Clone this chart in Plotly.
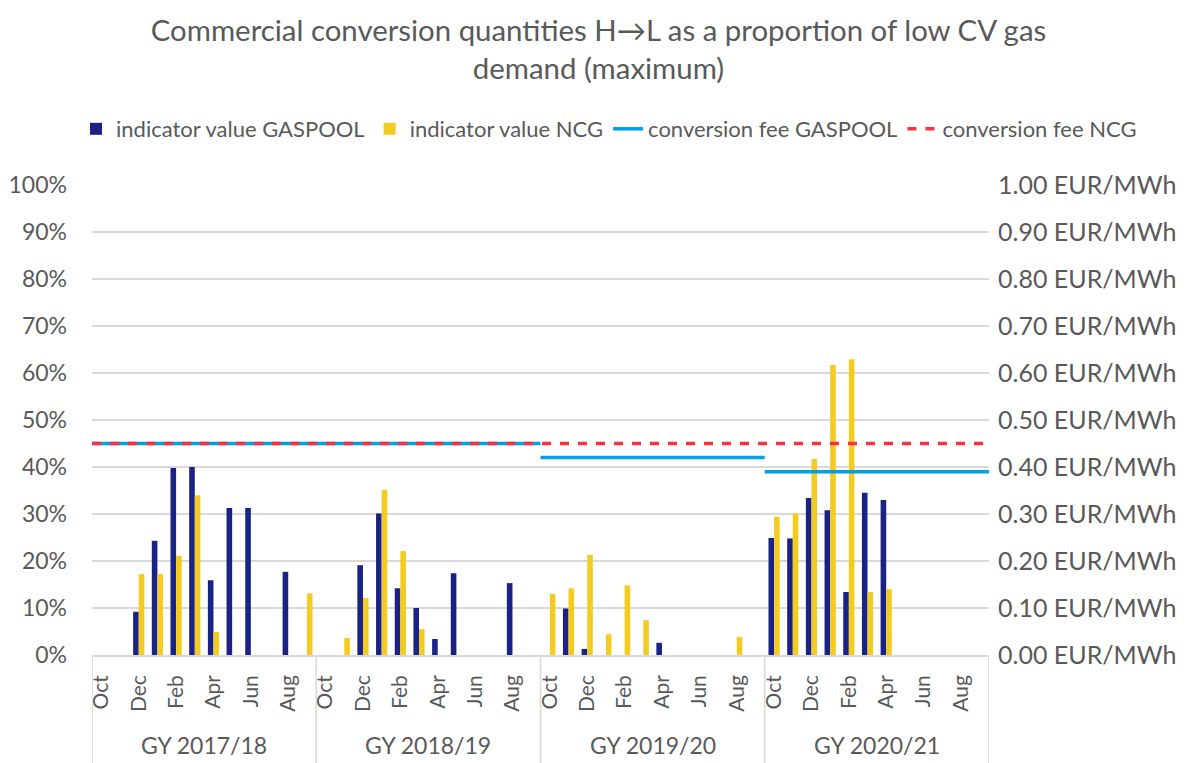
import plotly.graph_objects as go

# ---------------- data ----------------
gas_years = ["GY 2017/18", "GY 2018/19", "GY 2019/20", "GY 2020/21"]
months = ["Oct", "Nov", "Dec", "Jan", "Feb", "Mar", "Apr", "May", "Jun", "Jul", "Aug", "Sep"]

# indicator values (share of low CV gas demand, %), Oct..Sep per gas year
gaspool_2017 = [0, 0, 9.2, 24.3, 39.8, 40.0, 15.9, 31.3, 31.3, 0, 17.7, 0]
gaspool_2018 = [0, 0, 19.1, 30.1, 14.2, 10.0, 3.4, 17.4, 0, 0, 15.3, 0]
gaspool_2019 = [0, 9.9, 1.3, 0, 0, 0, 2.6, 0, 0, 0, 0, 0]
gaspool_2020 = [24.9, 24.8, 33.4, 30.8, 13.4, 34.5, 33.0, None, None, None, None, None]

ncg_2017 = [0, 0, 17.2, 17.2, 21.1, 34.0, 4.9, 0, 0, 0, 0, 13.1]
ncg_2018 = [0, 3.6, 12.1, 35.1, 22.1, 5.5, 0, 0, 0, 0, 0, 0]
ncg_2019 = [13.0, 14.2, 21.3, 4.4, 14.8, 7.4, 0, 0, 0, 0, 3.8, 0]
ncg_2020 = [29.4, 30.1, 41.7, 61.7, 62.9, 13.4, 14.0, None, None, None, None, None]

# conversion fees (EUR/MWh) per gas year
fee_gaspool = [0.45, 0.45, 0.42, 0.39]
fee_ncg = [0.45, 0.45, 0.45, 0.45]

# ---------------- helpers ----------------
gaspool_vals = gaspool_2017 + gaspool_2018 + gaspool_2019 + gaspool_2020
ncg_vals = ncg_2017 + ncg_2018 + ncg_2019 + ncg_2020
n_m = len(months)
n_total = n_m * len(gas_years)
x_idx = list(range(n_total))


def pct(vals):
    return [None if v is None else v / 100 for v in vals]


def step_segments(fees):
    """Horizontal segments spanning each gas year; equal consecutive values merged."""
    xs, ys = [], []
    start = 0
    for i in range(1, len(fees) + 1):
        if i == len(fees) or fees[i] != fees[start]:
            if xs:
                xs.append(None)
                ys.append(None)
            xs += [start * n_m - 0.5, i * n_m - 0.5]
            ys += [fees[start], fees[start]]
            start = i
    return xs, ys


NAVY = "#1B2286"
YELLOW = "#F4CB1F"
LBLUE = "#00A0E3"
RED = "#F53340"
GRID = "#D9D9D9"
TXT = "#595959"
FONT = "Lato"

W, H = 1181, 755  # page adds an 8px body margin
ML, MR, MT, MB = 84, 200, 177, 108
PW, PH = W - ML - MR, H - MT - MB

fig = go.Figure()
fig.add_trace(go.Bar(x=x_idx, y=pct(gaspool_vals), name="indicator value GASPOOL",
                     marker=dict(color=NAVY, line=dict(width=0))))
fig.add_trace(go.Bar(x=x_idx, y=pct(ncg_vals), name="indicator value NCG",
                     marker=dict(color=YELLOW, line=dict(width=0))))

gx, gy = step_segments(fee_gaspool)
fig.add_trace(go.Scatter(x=gx, y=gy, mode="lines", name="conversion fee GASPOOL",
                         yaxis="y2", line=dict(color=LBLUE, width=3.5)))
nx, ny = step_segments(fee_ncg)
fig.add_trace(go.Scatter(x=nx, y=ny, mode="lines", name="conversion fee NCG",
                         yaxis="y2", line=dict(color=RED, width=3.5, dash="9px,9px")))

tickvals = [i for i in x_idx if i % 2 == 0]
ticktext = [months[i % n_m] for i in tickvals]

# group dividers and labels
shapes = []
for k in range(len(gas_years) + 1):
    xb = k * n_m - 0.5
    shapes.append(dict(type="line", xref="x", yref="paper", x0=xb, x1=xb, y0=0, y1=-MB / PH,
                       line=dict(color=GRID, width=1.5), layer="below"))
annotations = []
for k, gy_name in enumerate(gas_years):
    annotations.append(dict(x=k * n_m + (n_m - 1) / 2, y=0, xref="x", yref="paper",
                            yanchor="middle", yshift=-90, text=gy_name, showarrow=False,
                            font=dict(family=FONT, size=23, color=TXT)))

fig.update_layout(
    width=W, height=H,
    margin=dict(l=ML, r=MR, t=MT, b=MB, autoexpand=False),
    paper_bgcolor="white", plot_bgcolor="white",
    font=dict(family=FONT, size=23, color=TXT),
    title=dict(text="Commercial conversion quantities H\u2192L as a proportion of low CV gas<br>demand (maximum)",
               x=0.5, xanchor="center", xref="container", yref="container",
               y=1 - 33 / H, yanchor="middle",
               font=dict(family=FONT, size=29.4, color=TXT)),
    barmode="group", bargap=0.4, bargroupgap=0,
    legend=dict(orientation="h", xref="paper", yref="paper",
                x=(1134 - ML) / PW, xanchor="right",
                y=1 + (MT - 121) / PH, yanchor="middle",
                font=dict(family=FONT, size=22, color=TXT),
                itemwidth=30, traceorder="normal", tracegroupgap=0),
    xaxis=dict(range=[-0.5, n_total - 0.5], tickmode="array", tickvals=tickvals, ticktext=ticktext,
               tickangle=-90, showgrid=False, showline=True, linecolor=GRID, linewidth=1.5,
               ticks="", ticklabelstandoff=10, zeroline=False, automargin=False,
               tickfont=dict(family=FONT, size=21, color=TXT)),
    yaxis=dict(range=[0, 1], dtick=0.1, tickformat=".0%", showgrid=True, gridcolor=GRID,
               gridwidth=1.5, zeroline=False, ticks="", ticklabelstandoff=24, automargin=False,
               tickfont=dict(family=FONT, size=23, color=TXT)),
    yaxis2=dict(range=[0, 1], dtick=0.1, tickformat=".2f", ticksuffix=" EUR/MWh", overlaying="y",
                side="right", showgrid=False, zeroline=False, ticks="", ticklabelstandoff=8,
                automargin=False, tickfont=dict(family=FONT, size=25, color=TXT)),
    shapes=shapes,
    annotations=annotations,
)

fig.write_html("out.html")
